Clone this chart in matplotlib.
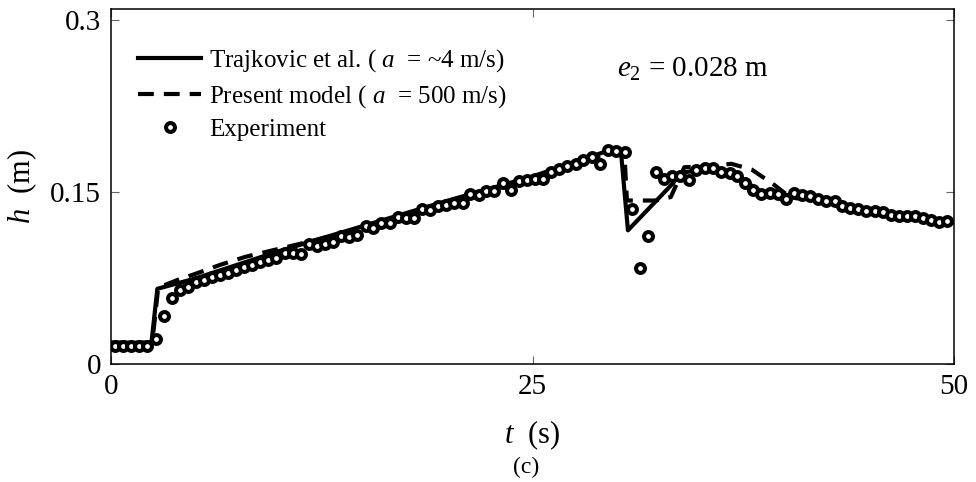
import matplotlib
matplotlib.use('Agg')
import matplotlib.pyplot as plt
import numpy as np

plt.rcParams['font.family'] = ['Liberation Serif', 'DejaVu Serif']
plt.rcParams['mathtext.fontset'] = 'custom'
plt.rcParams['mathtext.rm'] = 'Liberation Serif'
plt.rcParams['mathtext.it'] = 'Liberation Serif:italic'

# experiment (measured water depth)
t_exp = [0.24, 0.71, 1.19, 1.66, 2.13, 2.65, 3.12, 3.62, 4.07, 4.55,
         5.02, 5.49, 5.97, 6.44, 6.92, 7.39, 7.90, 8.38, 8.85, 9.33,
         9.80, 10.30, 10.79, 11.26, 11.74, 12.20, 12.69, 13.18, 13.65, 14.13,
         14.60, 15.10, 15.55, 16.02, 16.52, 17.00, 17.49, 17.96, 18.44, 18.91,
         19.38, 19.86, 20.33, 20.85, 21.32, 21.80, 22.27, 22.74, 23.24, 23.71,
         24.19, 24.68, 25.15, 25.63, 26.12, 26.57, 27.05, 27.55, 28.00, 28.50,
         28.99, 29.46, 29.98, 30.47, 30.92, 31.38, 31.83, 32.31, 32.80, 33.30,
         33.77, 34.28, 34.72, 35.21, 35.70, 36.20, 36.70, 37.13, 37.58, 38.07,
         38.57, 39.06, 39.56, 40.01, 40.49, 40.96, 41.43, 41.93, 42.42, 42.92,
         43.37, 43.85, 44.30, 44.80, 45.29, 45.78, 46.26, 46.73, 47.20, 47.68,
         48.15, 48.63, 49.10, 49.57]
h_exp = [0.016, 0.016, 0.016, 0.016, 0.016, 0.022, 0.042, 0.058, 0.065, 0.068,
         0.072, 0.0735, 0.076, 0.078, 0.080, 0.082, 0.085, 0.087, 0.089, 0.091,
         0.093, 0.097, 0.097, 0.0964, 0.105, 0.103, 0.1054, 0.107, 0.112, 0.111,
         0.113, 0.121, 0.119, 0.123, 0.123, 0.129, 0.128, 0.128, 0.136, 0.135,
         0.138, 0.139, 0.141, 0.141, 0.149, 0.1475, 0.151, 0.151, 0.158, 0.152,
         0.160, 0.161, 0.162, 0.162, 0.168, 0.1705, 0.173, 0.175, 0.1786, 0.1806,
         0.175, 0.187, 0.1865, 0.185, 0.136, 0.084, 0.112, 0.168, 0.162, 0.164,
         0.164, 0.161, 0.170, 0.1714, 0.1714, 0.168, 0.167, 0.1645, 0.158, 0.1525,
         0.149, 0.1496, 0.149, 0.144, 0.1496, 0.148, 0.1466, 0.1444, 0.1423, 0.1423,
         0.138, 0.1365, 0.1356, 0.1336, 0.1336, 0.1327, 0.1307, 0.1298, 0.1298, 0.1292,
         0.1278, 0.1263, 0.124, 0.125]

# Trajkovic et al. (a = ~4 m/s)
t_traj = [0, 2.4, 2.75, 5, 10, 15, 20, 25, 28, 29.4, 30.25, 30.66,
          33.33, 33.75, 35.5, 37, 38.5, 40, 42, 45, 48, 50]
h_traj = [0.019, 0.019, 0.066, 0.075, 0.099, 0.121, 0.143, 0.164, 0.179, 0.186, 0.185, 0.117,
          0.158, 0.167, 0.171, 0.166, 0.151, 0.148, 0.143, 0.135, 0.128, 0.124]

# present model (a = 500 m/s)
t_pres = [0, 2.45, 2.8, 4, 5, 6.5, 8, 10, 12, 14, 16, 18, 20, 22, 24, 26,
          28, 29.5, 30.45, 30.6, 32.3, 33.2, 34.0, 35.5, 36.8, 38.0, 39.3, 40.0,
          40.6, 42, 44, 45.5, 47, 50]
h_pres = [0.019, 0.019, 0.067, 0.074, 0.079, 0.087, 0.094, 0.101, 0.108, 0.116, 0.124, 0.133,
          0.142, 0.150, 0.158, 0.167, 0.178, 0.184, 0.184, 0.143, 0.143, 0.146, 0.172, 0.173,
          0.175, 0.170, 0.157, 0.149, 0.145, 0.144, 0.138, 0.135, 0.130, 0.124]

fig = plt.figure(figsize=(9.76, 4.82), dpi=100)
ax = fig.add_axes([0.1137, 0.2438, 0.8638, 0.7375])

ax.plot(t_traj, h_traj, color='black', lw=3, label=r'Trajkovic et al. ( $a$  = ~4 m/s)')
ax.plot(t_pres, h_pres, color='black', lw=3, linestyle=(0, (3.8, 2.4)),
        label=r'Present model ( $a$  = 500 m/s)')
ax.plot(t_exp, h_exp, linestyle='none', marker='o', ms=6.4, mew=2.9,
        mfc='white', mec='black', label='Experiment')

ax.set_xlim(0, 50)
ax.set_ylim(0, 0.31)
ax.set_xticks([0, 25, 50])
ax.set_xticklabels(['0', '25', '50'])
ax.set_yticks([0, 0.15, 0.3])
ax.set_yticklabels(['0', '0.15', '0.3'])
ax.tick_params(direction='in', length=6, width=0.8, color='0.4',
               top=True, right=True, labelsize=21, pad=7)
for s in ax.spines.values():
    s.set_linewidth(1.1)

ax.set_xlabel(r'$t$  (s)', fontsize=22, labelpad=13)
ax.set_ylabel(r'$h$  (m)', fontsize=22, labelpad=8)
ax.text(30.0, 0.257, r'$e_2$ = 0.028 m', fontsize=21, ha='left', va='center')
fig.text(0.539, 0.031, '(c)', fontsize=17, ha='center', va='center')

ax.legend(loc='upper left', bbox_to_anchor=(0.005, 0.955), frameon=False, fontsize=18,
          handlelength=2.55, handletextpad=0.3, labelspacing=0.34, borderaxespad=0.5)

fig.savefig('out.png', dpi=100)
